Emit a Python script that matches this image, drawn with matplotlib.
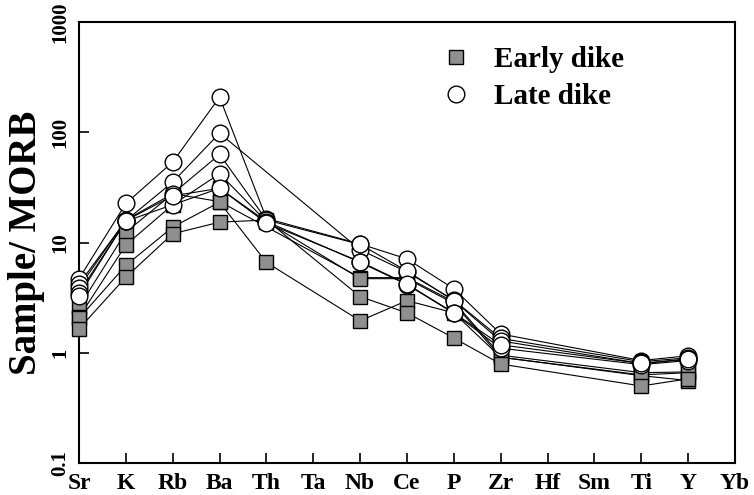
import numpy as np
import matplotlib
matplotlib.use('Agg')
import matplotlib.pyplot as plt
from matplotlib.lines import Line2D

#-----------------------------------------------------------
elements=['Sr','K','Rb','Ba','Th','Ta','Nb','Ce','P','Zr','Hf','Sm','Ti','Y','Yb']
nan=np.nan

# late dike (Sample/MORB), Ta Hf Sm Yb not measured
late_1=[4.7, 22.6, 53.7, 208, 16.5, nan, 9.7, 7.1, 3.8, 1.48, nan, nan, 0.85, 0.94, nan]
late_2=[4.2, 15.8, 35.3, 98, nan, nan, 8.6, 5.4, 3.0, 1.35, nan, nan, 0.83, 0.90, nan]
late_3=[3.9, 16.0, 27.7, 63, 16.0, nan, 9.6, 5.5, 2.97, 1.28, nan, nan, 0.80, 0.88, nan]
late_4=[3.5, 15.6, 22.0, 42, 15.5, nan, 6.6, 4.15, 2.28, 1.10, nan, nan, 0.78, 0.85, nan]
late_5=[3.3, 15.8, 26.5, 31, 15.0, nan, 6.7, 4.2, 2.3, 1.18, nan, nan, 0.80, 0.87, nan]

# early dike
early_1=[2.6, 12.4, 27.7, 23.5, nan, nan, 4.8, 4.8, 2.9, 0.95, nan, nan, 0.66, 0.67, nan]
early_2=[2.1, 9.5, 22.0, 31, 15.5, nan, 4.7, 4.7, 2.8, 0.91, nan, nan, 0.63, 0.66, nan]
early_3=[2.05, 6.2, 13.8, 23.2, 6.6, nan, 1.95, 2.97, 2.3, 0.91, nan, nan, 0.62, 0.56, nan]
early_4=[1.65, 4.85, 12.0, 15.3, 16.0, nan, 3.23, 2.3, 1.36, 0.79, nan, nan, 0.50, 0.58, nan]

l_late=[late_1, late_2, late_3, late_4, late_5]
l_early=[early_1, early_2, early_3, early_4]

#-----------------------------------------------------------
plt.rcParams['font.family']=['Liberation Serif', 'DejaVu Serif']
plt.rcParams['font.weight']='bold'

fig=plt.figure(figsize=(7.54, 4.95), dpi=100)
ax=fig.add_axes([0.1048, 0.0646, 0.8700, 0.8910])
x=np.arange(len(elements))

def plt_sample(vals, marker, fc, ms, z):
	y=np.array(vals, dtype=float)
	ok=~np.isnan(y)
	ax.plot(x[ok], y[ok], '-', color='black', lw=0.8, zorder=2)
	ax.plot(x[ok], y[ok], ls='none', marker=marker, ms=ms, mfc=fc, mec='black', mew=1.0, zorder=z, clip_on=False)

for s in l_early:
	plt_sample(s, 's', '#8f8f8f', 10.5, 3)
for s in l_late:
	plt_sample(s, 'o', 'white', 12, 4)

#axes
ax.set_yscale('log')
ax.set_ylim(0.1, 1000)
ax.set_xlim(0, len(elements)-1)
ax.set_yticks([0.1, 1, 10, 100, 1000])
ax.set_yticklabels(['0.1', '1', '10', '100', '1000'], rotation=90, va='center', fontsize=15, fontweight='bold')
ax.minorticks_off()
ax.set_xticks(x)
ax.set_xticklabels(elements, fontsize=17, fontweight='bold')
ax.tick_params(axis='x', direction='in', length=7, width=1.2, pad=7, top=False)
ax.tick_params(axis='y', direction='in', length=7, width=1.2, pad=6, right=False)
for sp in ax.spines.values():
	sp.set_linewidth(1.5)
ax.set_ylabel('Sample/ MORB', fontsize=28, fontweight='bold', labelpad=4)

#legend
h=[Line2D([], [], ls='none', marker='s', ms=10.5, mfc='#8f8f8f', mec='black', mew=1.0),
   Line2D([], [], ls='none', marker='o', ms=12, mfc='white', mec='black', mew=1.0)]
ax.legend(h, ['Early dike', 'Late dike'], loc='upper left', bbox_to_anchor=(0.49, 1.005), frameon=False,
	prop={'size':21, 'weight':'bold'}, handletextpad=0.3, labelspacing=0.35)

plt.savefig('out.png', dpi=100)
plt.close()
